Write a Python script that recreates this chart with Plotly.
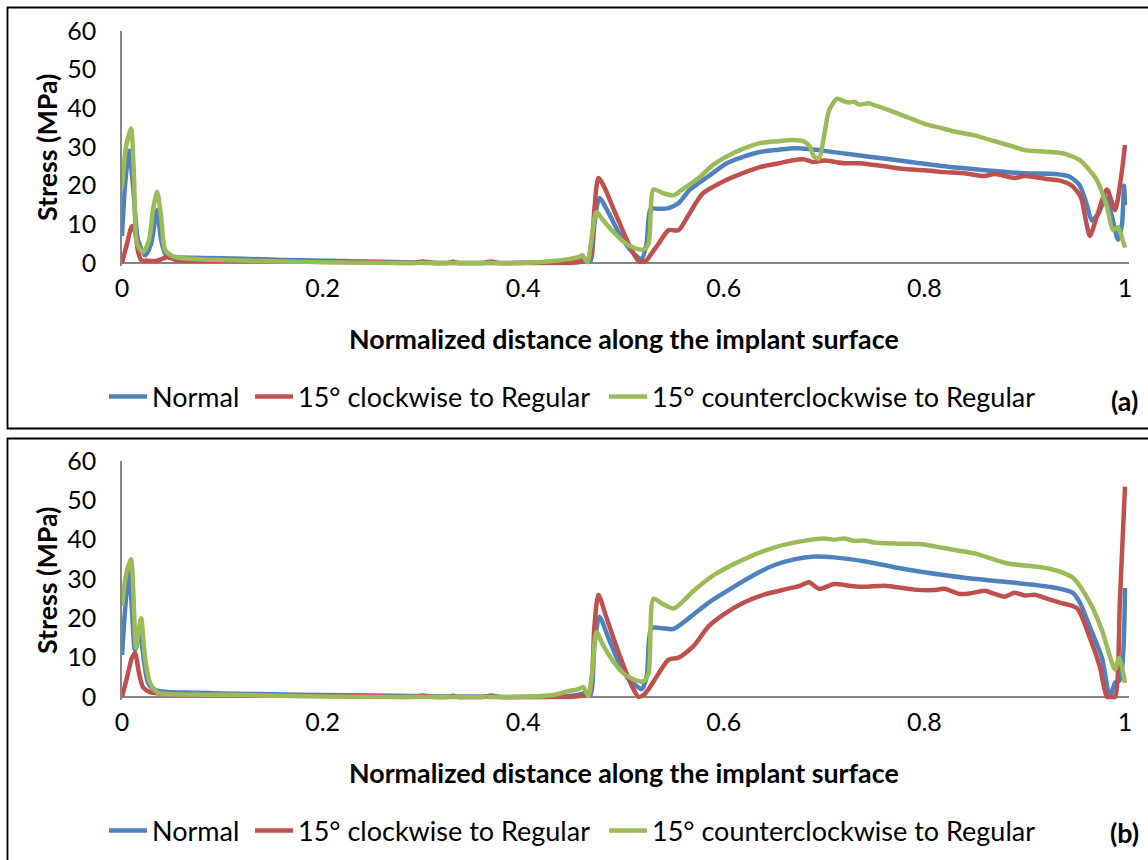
import plotly.graph_objects as go

# ---------------- data: stress (MPa) vs normalized distance ----------------
series_names = ["Normal", "15° clockwise to Regular", "15° counterclockwise to Regular"]
x_tick_vals = [0, 0.2, 0.4, 0.6, 0.8, 1]
x_tick_text = ["0", "0.2", "0.4", "0.6", "0.8", "1"]
y_tick_vals = [0, 10, 20, 30, 40, 50, 60]

# panel (a)
a_normal_x = [0, 0.003, 0.007, 0.011, 0.016, 0.023, 0.029, 0.035, 0.039, 0.044, 0.055, 0.08, 0.12, 0.16,
              0.2, 0.24, 0.28, 0.32, 0.38, 0.42, 0.45, 0.462, 0.467, 0.471, 0.476, 0.485, 0.495, 0.505,
              0.512, 0.518, 0.523, 0.527, 0.535, 0.545, 0.555, 0.566, 0.585, 0.603, 0.62, 0.636, 0.655,
              0.67, 0.685, 0.7, 0.73, 0.76, 0.79, 0.82, 0.86, 0.9, 0.93, 0.945, 0.955, 0.962, 0.967,
              0.974, 0.981, 0.987, 0.993, 0.997, 0.999, 1.0]
a_normal_y = [7, 20, 29, 20, 6, 2, 5, 13.7, 6, 2, 1.5, 1.3, 1.1, 0.8,
              0.6, 0.4, 0.2, 0, 0, 0.2, 0.6, 1, 0.5, 10, 16.8, 13, 8, 4,
              2, 1, 5, 14, 14, 14.2, 15.5, 18.9, 22.5, 25.8, 27.5, 28.7, 29.3,
              29.7, 29.5, 29, 28, 27, 26, 25, 24, 23.2, 23, 22.3, 20, 15, 11,
              13, 17, 12, 6, 10, 20, 15]

a_cw_x = [0, 0.005, 0.01, 0.013, 0.016, 0.019, 0.025, 0.035, 0.045, 0.055, 0.08, 0.12, 0.2, 0.25,
          0.29, 0.3, 0.31, 0.325, 0.33, 0.335, 0.36, 0.368, 0.375, 0.4, 0.44, 0.455, 0.462, 0.467,
          0.471, 0.475, 0.482, 0.49, 0.5, 0.508, 0.515, 0.522, 0.528, 0.535, 0.545, 0.555, 0.565,
          0.579, 0.595, 0.609, 0.636, 0.655, 0.669, 0.68, 0.689, 0.7, 0.72, 0.736, 0.76, 0.78, 0.8,
          0.82, 0.84, 0.86, 0.87, 0.89, 0.9, 0.92, 0.935, 0.947, 0.956, 0.961, 0.965, 0.972, 0.982,
          0.99, 0.996, 1.0]
a_cw_y = [0, 5, 9.6, 8, 3, 0.8, 0.6, 0.6, 1.5, 0.7, 0.6, 0.6, 0.4, 0.2,
          0, 0.4, 0, 0, 0.3, 0, 0, 0.4, 0, 0, 0, 0.2, 0.5, 2,
          14, 22, 19, 14, 8, 3.5, 0.5, 0.5, 2.5, 5, 8.5, 8.5, 12.5,
          18, 20.5, 22.2, 24.8, 25.8, 26.6, 26.8, 26.1, 26.5, 25.8, 25.8, 25, 24.3, 24,
          23.5, 23.2, 22.5, 23, 22, 22.5, 21.8, 21.3, 20, 17, 11, 7, 12, 19,
          13.7, 22, 30.5]

a_ccw_x = [0, 0.004, 0.009, 0.012, 0.015, 0.021, 0.027, 0.031, 0.035, 0.039, 0.043, 0.05, 0.058,
           0.075, 0.1, 0.14, 0.18, 0.22, 0.26, 0.3, 0.35, 0.4, 0.43, 0.445, 0.455, 0.459, 0.464,
           0.468, 0.473, 0.48, 0.49, 0.5, 0.51, 0.52, 0.525, 0.53, 0.54, 0.55, 0.557, 0.575, 0.59,
           0.61, 0.636, 0.655, 0.669, 0.681, 0.686, 0.69, 0.695, 0.7, 0.705, 0.713, 0.72, 0.725,
           0.73, 0.735, 0.745, 0.75, 0.76, 0.77, 0.78, 0.79, 0.8, 0.815, 0.83, 0.85, 0.87, 0.89,
           0.9, 0.92, 0.938, 0.955, 0.963, 0.972, 0.982, 0.988, 0.993, 0.997, 1.0]
a_ccw_y = [19.6, 30, 34.8, 22, 5, 2.8, 6, 14, 18.4, 12, 3.4, 1.8, 1.3,
           1, 0.8, 0.5, 0.3, 0.1, 0, 0, 0, 0, 0.5, 1, 1.5, 2, 0.2,
           6, 13.2, 11, 8, 5.5, 4, 3.5, 5, 19, 18, 17.5, 18.7, 22, 25.5,
           28.5, 31, 31.5, 31.8, 31.3, 30, 27.5, 27, 33, 39.5, 42.5, 41.8, 41.5,
           41.7, 41, 41.3, 40.8, 40, 39, 38, 37, 36, 35, 34, 33, 31.5, 30,
           29.2, 28.8, 28.4, 26.6, 24.5, 21.4, 14.5, 8.5, 9.3, 6.5, 4]

# panel (b)
b_normal_x = [0, 0.003, 0.007, 0.01, 0.013, 0.018, 0.022, 0.026, 0.033, 0.045, 0.07, 0.1, 0.15, 0.2,
              0.25, 0.3, 0.35, 0.4, 0.44, 0.455, 0.462, 0.467, 0.471, 0.476, 0.485, 0.495, 0.505,
              0.512, 0.518, 0.523, 0.528, 0.538, 0.55, 0.565, 0.585, 0.61, 0.63, 0.65, 0.67, 0.69,
              0.71, 0.74, 0.77, 0.8, 0.84, 0.88, 0.925, 0.948, 0.955, 0.965, 0.977, 0.985, 0.99,
              0.995, 1.0]
b_normal_y = [10.7, 22, 32, 22, 12, 15.8, 9, 3.6, 1.8, 1.3, 1.1, 0.9, 0.7, 0.5,
              0.4, 0.2, 0.1, 0, 0.2, 0.6, 1, 0.5, 13, 20.4, 15, 9, 4.5,
              3, 2, 5, 17.5, 17.5, 17.3, 20, 24, 28, 31, 33.5, 35, 35.7,
              35.5, 34.5, 33, 31.7, 30.3, 29.3, 28, 26.5, 24, 17.8, 10, 0, 3.6,
              4.3, 27.7]

b_cw_x = [0, 0.005, 0.01, 0.013, 0.017, 0.021, 0.028, 0.04, 0.06, 0.1, 0.15, 0.2, 0.25, 0.29, 0.3,
          0.31, 0.325, 0.33, 0.335, 0.36, 0.368, 0.375, 0.4, 0.44, 0.455, 0.462, 0.467, 0.471,
          0.475, 0.482, 0.49, 0.5, 0.508, 0.515, 0.52, 0.525, 0.535, 0.545, 0.555, 0.57, 0.585,
          0.6, 0.62, 0.64, 0.66, 0.675, 0.685, 0.695, 0.71, 0.725, 0.74, 0.76, 0.79, 0.81, 0.82,
          0.835, 0.845, 0.86, 0.87, 0.88, 0.89, 0.9, 0.91, 0.92, 0.935, 0.952, 0.965, 0.975,
          0.982, 0.986, 0.99, 0.995, 1.0]
b_cw_y = [0, 5, 10, 11.2, 6, 2.5, 1.2, 0.8, 0.6, 0.5, 0.4, 0.3, 0.2, 0, 0.4,
          0, 0, 0.3, 0, 0, 0.4, 0, 0, 0, 0.2, 0.5, 2, 18,
          26, 21, 15, 8, 3, 0, 0.5, 2, 6, 9.5, 10, 13, 18,
          21, 24, 26, 27.3, 28.2, 29.2, 27.5, 28.7, 28.3, 28, 28.3, 27.3, 27.2, 27.5,
          26.2, 26.3, 27, 26.2, 25.5, 26.5, 25.8, 26, 25.2, 24, 22.6, 15, 7.6,
          0, 0, 0, 25, 53.5]

b_ccw_x = [0, 0.004, 0.009, 0.012, 0.014, 0.019, 0.023, 0.028, 0.036, 0.05, 0.08, 0.12, 0.16, 0.2,
           0.25, 0.3, 0.35, 0.4, 0.43, 0.445, 0.455, 0.46, 0.465, 0.469, 0.473, 0.48, 0.49, 0.5,
           0.51, 0.52, 0.525, 0.53, 0.54, 0.55, 0.56, 0.57, 0.59, 0.62, 0.65, 0.68, 0.7, 0.71,
           0.72, 0.73, 0.74, 0.75, 0.77, 0.8, 0.816, 0.85, 0.882, 0.925, 0.948, 0.965, 0.977,
           0.983, 0.99, 0.994, 1.0]
b_ccw_y = [23, 31, 35, 22, 12.5, 20, 10, 3.6, 1, 0.7, 0.6, 0.5, 0.3, 0.1,
           0, 0, 0, 0, 0.5, 1.5, 2, 2.5, 0.2, 7, 16.5, 13, 9, 6,
           4.5, 4, 6, 25, 23.5, 22.5, 24.5, 27, 31, 35, 38, 39.7, 40.3, 40,
           40.3, 39.7, 39.8, 39.3, 39, 38.8, 38, 36.5, 34, 32.6, 30.3, 24, 17,
           12, 7, 10, 3.6]

# ---------------- styling ----------------
W, H = 1148, 860
FONT = "Lato"
COLORS = ["#4F81BD", "#C0504D", "#9BBB59"]
AXIS_GREY = "#868686"
TICK_SIZE = 25
LEGEND_SIZE = 27
TITLE_SIZE = 26.8


def fx(p):
    return p / W


def fy(p):
    return 1 - p / H


panels = [
    dict(xa="x", ya="y",
         data=[(a_normal_x, a_normal_y), (a_cw_x, a_cw_y), (a_ccw_x, a_ccw_y)],
         legends=["legend", "legend2", "legend3"],
         top=31, zero=263, ytitle=147, xtitle=339, legend_y=397, label="(a)", label_y=401),
    dict(xa="x2", ya="y2",
         data=[(b_normal_x, b_normal_y), (b_cw_x, b_cw_y), (b_ccw_x, b_ccw_y)],
         legends=["legend4", "legend5", "legend6"],
         top=461, zero=697, ytitle=580, xtitle=773, legend_y=831, label="(b)", label_y=833),
]

fig = go.Figure()
legend_x_px = [104, 250, 604]
layout = dict(
    width=W, height=H,
    margin=dict(l=0, r=0, t=0, b=0, autoexpand=False),
    paper_bgcolor="white", plot_bgcolor="white",
    font=dict(family=FONT, color="black"),
    showlegend=True,
    annotations=[], shapes=[],
)

Y_MIN = -0.7
for i, p in enumerate(panels):
    for k, ((xs, ys), name, color) in enumerate(zip(p["data"], series_names, COLORS)):
        fig.add_trace(go.Scatter(
            x=xs, y=ys, mode="lines", name=name, showlegend=True,
            line=dict(color=color, width=4.5, shape="spline", smoothing=0.7),
            xaxis=p["xa"], yaxis=p["ya"], legend=p["legends"][k],
        ))
        layout[p["legends"][k]] = dict(
            x=fx(legend_x_px[k]), y=fy(p["legend_y"]), xanchor="left", yanchor="middle",
            orientation="h", bgcolor="rgba(0,0,0,0)", borderwidth=0,
            font=dict(family=FONT, size=LEGEND_SIZE, color="black"), itemwidth=38,
        )

    px_per_unit = (p["zero"] - p["top"]) / 60.0
    bottom_px = p["zero"] - Y_MIN * px_per_unit
    suffix = "" if i == 0 else str(i + 1)
    layout["xaxis" + suffix] = dict(
        domain=[fx(122), fx(1129)], range=[0, 1.004], anchor=p["ya"],
        tickvals=x_tick_vals, ticktext=x_tick_text, ticks="",
        showline=False, showgrid=False, zeroline=False,
        tickfont=dict(family=FONT, size=TICK_SIZE, color="black"), ticklabelstandoff=5,
    )
    layout["yaxis" + suffix] = dict(
        domain=[fy(bottom_px), fy(p["top"])], range=[Y_MIN, 60], anchor=p["xa"],
        tickvals=y_tick_vals, ticks="",
        showline=True, linecolor=AXIS_GREY, linewidth=1.5,
        showgrid=False, zeroline=True, zerolinecolor=AXIS_GREY, zerolinewidth=1.5,
        tickfont=dict(family=FONT, size=TICK_SIZE, color="black"), ticklabelstandoff=19,
    )
    layout["annotations"] += [
        dict(text="<b>Stress (MPa)</b>", textangle=-90, x=fx(47), y=fy(p["ytitle"]),
             xref="paper", yref="paper", showarrow=False, xanchor="center", yanchor="middle",
             font=dict(family=FONT, size=TITLE_SIZE, color="black")),
        dict(text="<b>Normalized distance along the implant surface</b>", x=fx(624), y=fy(p["xtitle"]),
             xref="paper", yref="paper", showarrow=False, xanchor="center", yanchor="middle",
             font=dict(family=FONT, size=TITLE_SIZE, color="black")),
        dict(text="<b>" + p["label"] + "</b>", x=fx(1124), y=fy(p["label_y"]),
             xref="paper", yref="paper", showarrow=False, xanchor="center", yanchor="middle",
             font=dict(family=FONT, size=TITLE_SIZE, color="black")),
    ]

# frames around each panel
layout["shapes"] += [
    dict(type="rect", xref="paper", yref="paper", x0=fx(7.5), x1=fx(1152), y0=fy(428.5), y1=fy(7.5),
         line=dict(color="black", width=1.8), fillcolor="rgba(0,0,0,0)", layer="below"),
    dict(type="rect", xref="paper", yref="paper", x0=fx(7.5), x1=fx(1152), y0=fy(880), y1=fy(438.5),
         line=dict(color="black", width=1.8), fillcolor="rgba(0,0,0,0)", layer="below"),
]

fig.update_layout(**layout)
fig.write_html("out.html")
